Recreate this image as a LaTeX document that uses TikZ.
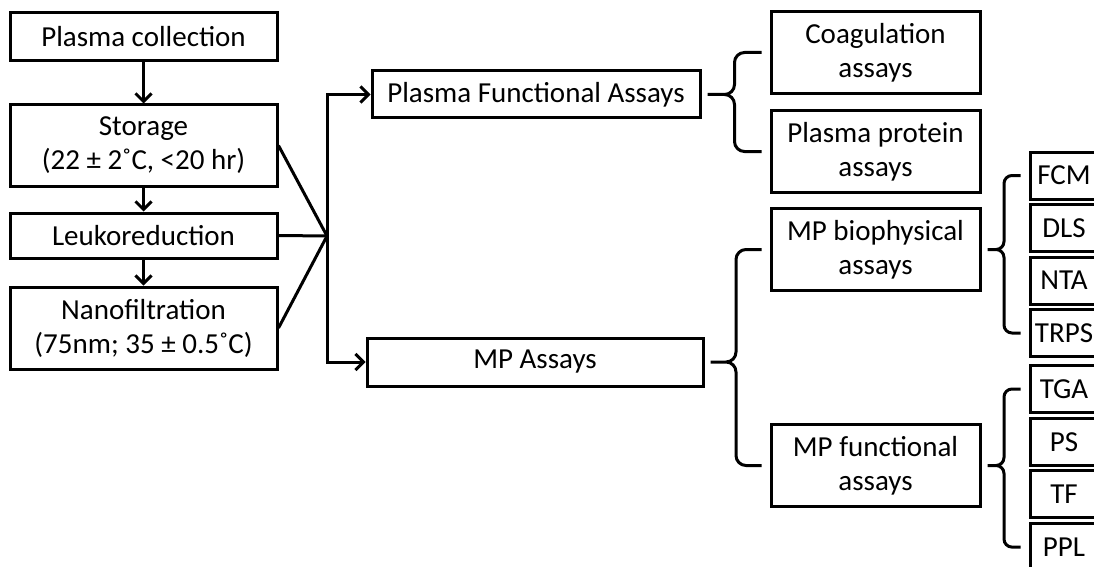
\documentclass[tikz,border=0pt]{standalone}
\usepackage{fontspec}
\setmainfont{Carlito}
\usetikzlibrary{arrows.meta,calc}
\tikzstyle{box}=[draw, line width=3pt, align=center, inner sep=0pt,
  font=\fontsize{29}{34}\selectfont]
\tikzstyle{stage}=[box, minimum width=267pt]
\tikzstyle{assay}=[box, minimum width=209pt, minimum height=82pt]
\tikzstyle{method}=[box, minimum width=68pt, minimum height=47pt]
\tikzstyle{flow}=[-{Straight Barb[length=8pt,width=16pt,line width=3pt]}]
% curly brace from a parent box to its first and last child
\newcommand{\assaybrace}[4][10pt]{%
  \draw let \p1=($(#2.east)+(6,0)$), \p2=($(#3.west)+(-8,0)$),
            \p3=($(#4.west)+(-8,0)$), \n1={0.5*(\x1+\x2)} in
    (\p1) -- (\n1-#1,\y1) arc[start angle=-90,end angle=0,radius=#1]
          -- (\n1,\y2-#1) arc[start angle=180,end angle=90,radius=#1] -- (\p2)
    (\p1) -- (\n1-#1,\y1) arc[start angle=90,end angle=0,radius=#1]
          -- (\n1,\y3+#1) arc[start angle=180,end angle=270,radius=#1] -- (\p3);
}

\begin{document}
\begin{tikzpicture}[x=1pt, y=-1pt, line width=3pt]
  \useasboundingbox (0,0) rectangle (1094,567);
  \clip (0,0) rectangle (1094,567);
  % preparation steps
  \node[stage, minimum height=48pt] (coll)  at (143.5, 37)    {Plasma collection};
  \node[stage, minimum height=81pt] (store) at (143.5, 145.5) {Storage\\(22 ± 2˚C, <20 hr)};
  \node[stage, minimum height=45pt] (leuko) at (143.5, 235.5) {Leukoreduction};
  \node[stage, minimum height=82pt] (nano)  at (143.5, 328)   {Nanofiltration\\(75nm; 35 ± 0.5˚C)};
  \draw[flow] (coll)--(store);
  \draw[flow] (store)--(leuko);
  \draw[flow] (leuko)--(nano);
  \coordinate (hub) at (327, 236);
  \draw (store.east)--(hub);
  \draw (leuko.east)--(hub);
  \draw (nano.east)--(hub);
  % assay groups
  \node[box, minimum width=328pt, minimum height=47pt] (pfa) at (536, 94.5) {Plasma Functional Assays};
  \node[box, minimum width=336pt, minimum height=48pt] (mp)  at (535, 362)  {MP Assays};
  \draw[flow] (hub) |- (pfa.west);
  \draw[flow] (hub) |- (mp.west);
  \node[assay] (coag) at (875.5, 52.5)  {Coagulation\\assays};
  \node[assay] (prot) at (875.5, 151.5) {Plasma protein\\assays};
  \node[assay] (bio)  at (875.5, 249.5) {MP biophysical\\assays};
  \node[assay] (func) at (875.5, 465.5) {MP functional\\assays};
  \assaybrace{pfa}{coag}{prot}
  \assaybrace{mp}{bio}{func}
  % methods
  \node[method] (fcm)  at (1064, 175.5) {FCM};
  \node[method] (dls)  at (1064, 228)   {DLS};
  \node[method] (nta)  at (1064, 280.5) {NTA};
  \node[method] (trps) at (1064, 333)   {TRPS};
  \node[method] (tga)  at (1064, 389)   {TGA};
  \node[method] (ps)   at (1064, 441.7) {PS};
  \node[method] (tf)   at (1064, 494.4) {TF};
  \node[method] (ppl)  at (1064, 547.1) {PPL};
  \assaybrace[8pt]{bio}{fcm}{trps}
  \assaybrace[8pt]{func}{tga}{ppl}
\end{tikzpicture}
\end{document}
